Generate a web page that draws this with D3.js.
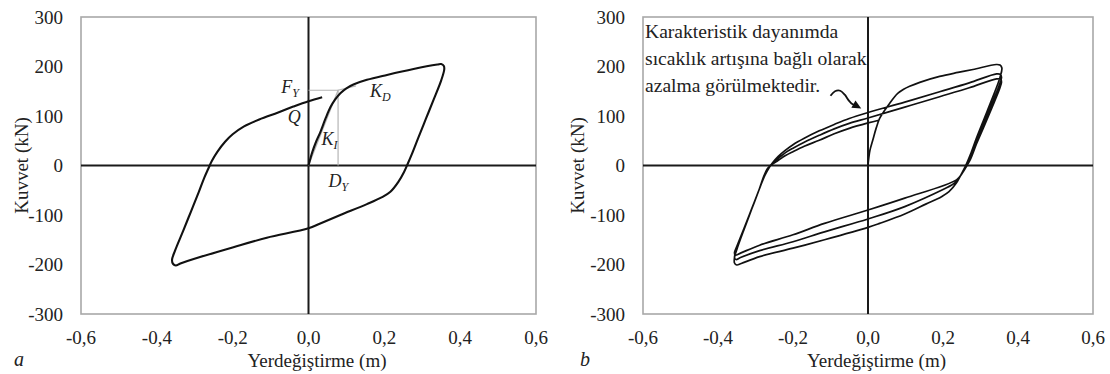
<!DOCTYPE html>
<html><head><meta charset="utf-8">
<script src="https://cdn.jsdelivr.net/npm/d3@7"></script>
</head><body style="margin:0"><svg id="c" width="1110" height="374"></svg>
<script>
// ---------- data ----------
const xTicks = [-0.6,-0.4,-0.2,0,0.2,0.4,0.6];
const yTicks = [-300,-200,-100,0,100,200,300];
const xTitle = "Yerdeğiştirme (m)";
const yTitle = "Kuvvet (kN)";
const panelLetters = ["a","b"];
const noteLines = ["Karakteristik dayanımda","sıcaklık artışına bağlı olarak","azalma görülmektedir."];

// panel a: single hysteresis cycle [displacement (m), force (kN)]
const curveA = [
 [0,0],[0.01,27],[0.02,48],[0.031,67],[0.045,95],[0.058,118],[0.07,133],[0.084,146],[0.1,156],[0.12,164],[0.154,173],[0.207,183],[0.277,195],[0.34,204],[0.35,205],[0.357,201],[0.358,194],
 [0.35,172],[0.33,133],[0.31,95],[0.29,57],[0.272,22],[0.262,4],[0.252,-13],[0.237,-33],[0.216,-53],[0.194,-64],[0.154,-78],[0.084,-100],[0.031,-117],[0,-127],[-0.11,-146],[-0.198,-165],[-0.286,-185],[-0.338,-198],[-0.35,-202],[-0.357,-199],[-0.36,-191],
 [-0.352,-172],[-0.33,-131],[-0.31,-93],[-0.29,-55],[-0.275,-25],[-0.264,-6],[-0.255,9],[-0.24,28],[-0.22,48],[-0.2,63],[-0.17,79],[-0.13,93],[-0.08,107],[-0.04,119],[0,130],[0.036,138]
];
// panel a: bilinear idealisation guide lines
const guideA = [[0,152],[0.078,152],[0.078,0]];
const kiLineA = [[0,0],[0.078,152],[0.125,161]];
const labelsA = [
 {t:"F",s:"Y",x:-0.072,y:146},
 {t:"Q",s:"",x:-0.055,y:85},
 {t:"K",s:"I",x:0.034,y:42},
 {t:"D",s:"Y",x:0.053,y:-44},
 {t:"K",s:"D",x:0.162,y:138}
];

// panel b: three cycles with decreasing characteristic strength
const curveB = [
 [0,0],[0.005,30],[0.013,52],[0.022,76],[0.031,95],[0.045,112],[0.058,126],[0.07,138],[0.08,146],[0.095,154],[0.111,160],[0.138,168],[0.191,180],[0.24,188],[0.28,194],[0.342,204],[0.352,203],[0.357,197],
 [0.352,178],[0.33,133],[0.31,95],[0.29,57],[0.273,22],[0.263,4],[0.252,-13],[0.236,-35],[0.216,-53],[0.196,-63],[0.154,-78],[0.098,-98],[0.031,-117],[0,-125],[-0.116,-150],[-0.2,-167],[-0.289,-184],[-0.338,-198],[-0.35,-201],[-0.356,-197],[-0.356,-186],
 [-0.35,-170],[-0.33,-128],[-0.31,-88],[-0.29,-48],[-0.275,-20],[-0.265,-6],[-0.255,5],[-0.24,18],[-0.22,31],[-0.2,42],[-0.17,55],[-0.13,70],[-0.09,83],[-0.05,95],[0,107],[0.098,128],[0.191,149],[0.27,167],[0.343,185],[0.353,184],[0.356,178],
 [0.35,162],[0.33,124],[0.31,88],[0.29,52],[0.273,18],[0.263,2],[0.25,-17],[0.236,-32],[0.222,-40],[0.207,-46],[0.098,-83],[0,-108],[-0.116,-134],[-0.2,-154],[-0.289,-172],[-0.34,-186],[-0.352,-190],[-0.356,-186],
 [-0.35,-170],[-0.33,-128],[-0.31,-88],[-0.29,-48],[-0.276,-20],[-0.267,-6],[-0.257,3],[-0.24,14],[-0.22,26],[-0.2,35],[-0.17,47],[-0.13,61],[-0.09,74],[-0.05,85],[0,96],[0.098,118],[0.191,139],[0.27,157],[0.343,175],[0.354,174],[0.356,168],
 [0.35,153],[0.33,116],[0.31,80],[0.29,45],[0.274,14],[0.264,0],[0.25,-17],[0.236,-29],[0.098,-66],[0,-90],[-0.116,-117],[-0.2,-140],[-0.289,-161],[-0.34,-177],[-0.354,-181],[-0.356,-176],
 [-0.35,-164],[-0.33,-126],[-0.31,-87],[-0.29,-48],[-0.277,-20],[-0.268,-6],[-0.258,1],[-0.24,10],[-0.22,20],[-0.2,28],[-0.17,39],[-0.13,51],[-0.09,64],[-0.05,75],[0,86],[0.031,92]
];
// panel b: curly arrow of the note (data units)
const arrowB = [[-0.1,141],[-0.088,150],[-0.074,151],[-0.062,143],[-0.051,131],[-0.042,124],[-0.032,121]];
const arrowTipB = [-0.018,115];

// ---------- drawing ----------
const svg = d3.select("#c");
const fmtLocale = d3.formatLocale({decimal:",",thousands:".",grouping:[3],currency:["",""],minus:"-"});
const fx = fmtLocale.format(".1f"), fy = fmtLocale.format("d");
const yTop = 17, yBot = 314;
const BASE = 22; // text is set at 22px and scaled to the wanted size
// text helper: returns {t, k}; opts: anchor, rotate, italic
function label(x, y, s, size, opts={}){
  const k = size/BASE;
  const g = svg.append("g").attr("transform",`translate(${x},${y})${opts.rotate?" rotate(-90)":""} scale(${k})`);
  const t = g.append("text").attr("x",0).attr("y",0).attr("font-size",BASE).attr("fill","#222")
    .style("font-family",'"Liberation Serif"');
  if(opts.anchor) t.attr("text-anchor",opts.anchor);
  if(opts.italic) t.style("font-style","italic");
  t.text(s);
  return {t,k};
}
const lineGen = (x,y)=>d3.line().x(d=>x(d[0])).y(d=>y(d[1]));

function panel(x0, x1, opts){
  const x = d3.scaleLinear().domain([-0.6,0.6]).range([x0,x1]);
  const y = d3.scaleLinear().domain([-300,300]).range([yBot,yTop]);
  svg.append("rect").attr("x",x0).attr("y",yTop).attr("width",x1-x0).attr("height",yBot-yTop)
    .attr("fill","none").attr("stroke","#a8a8a8").attr("stroke-width",1.6);
  svg.append("line").attr("x1",x(0)).attr("x2",x(0)).attr("y1",yTop).attr("y2",yBot).attr("stroke","#1a1a1a").attr("stroke-width",2);
  svg.append("line").attr("x1",x0).attr("x2",x1).attr("y1",y(0)).attr("y2",y(0)).attr("stroke","#1a1a1a").attr("stroke-width",2);
  xTicks.forEach(v=>label(x(v), yBot+30, fx(v), 19, {anchor:"middle"}));
  yTicks.forEach(v=>label(x0-18, y(v)+6.5, fy(v), 19, {anchor:"end"}));
  label((x0+x1)/2+8.5, 366.5, xTitle, 19, {anchor:"middle"});
  label(opts.ytx, 165.5, yTitle, 19, {anchor:"middle", rotate:true});
  label(opts.lx, 366, opts.letter, 20, {italic:true});
  return {x,y};
}

// Panel a
const A = panel(81, 536, {ytx:27.5, lx:14, letter:panelLetters[0]});
svg.append("path").attr("d",lineGen(A.x,A.y)(guideA)).attr("fill","none").attr("stroke","#b5b5b5").attr("stroke-width",1.2);
svg.append("path").attr("d",lineGen(A.x,A.y)(kiLineA)).attr("fill","none").attr("stroke","#b5b5b5").attr("stroke-width",1.2);
svg.append("path").attr("d",lineGen(A.x,A.y).curve(d3.curveCatmullRom.alpha(0.5))(curveA))
  .attr("fill","none").attr("stroke","#111").attr("stroke-width",2.1).attr("stroke-linejoin","round");
labelsA.forEach(l=>{
  const px = A.x(l.x), py = A.y(l.y);
  const m = label(px, py, l.t, 18, {italic:true});
  if(l.s){
    const w = m.t.node().getComputedTextLength()*m.k;
    label(px + w, py + 4, l.s, 12, {italic:true});
  }
});

// Panel b
const B = panel(643, 1093, {ytx:584, lx:580, letter:panelLetters[1]});
svg.append("path").attr("d",lineGen(B.x,B.y).curve(d3.curveCatmullRom.alpha(0.5))(curveB))
  .attr("fill","none").attr("stroke","#111").attr("stroke-width",1.7).attr("stroke-linejoin","round");
noteLines.forEach((s,i)=>label(645, 38+i*27, s, 19.6));
svg.append("path").attr("d",lineGen(B.x,B.y).curve(d3.curveCatmullRom.alpha(0.5))(arrowB))
  .attr("fill","none").attr("stroke","#111").attr("stroke-width",1.8);
{
  const last = arrowB[arrowB.length-1];
  const ex = B.x(arrowTipB[0]), ey = B.y(arrowTipB[1]);
  const bx = B.x(last[0]), by = B.y(last[1]);
  const dx = ex-bx, dy = ey-by, L = Math.hypot(dx,dy), ux=dx/L, uy=dy/L;
  const back = 9, half = 4.2;
  const cx = ex-ux*back, cy = ey-uy*back;
  svg.append("path").attr("d",`M${ex},${ey}L${cx-uy*half},${cy+ux*half}L${cx+uy*half},${cy-ux*half}Z`).attr("fill","#111");
}
</script></body></html>
